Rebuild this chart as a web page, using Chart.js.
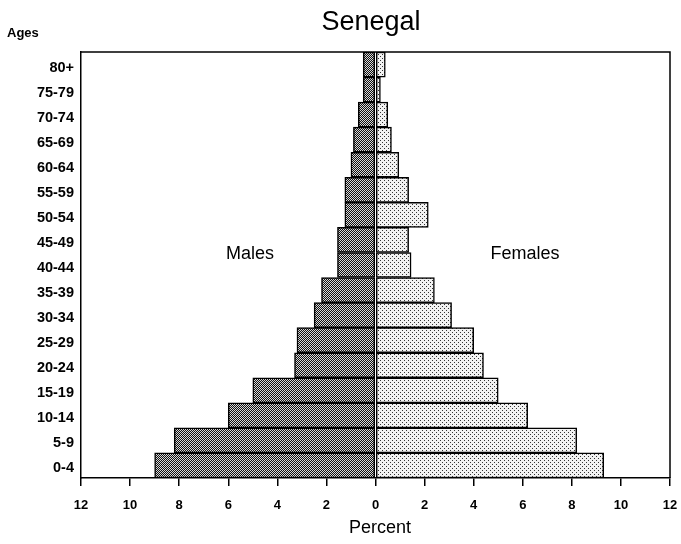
<!DOCTYPE html>
<html>
<head>
<meta charset="utf-8">
<script src="https://cdn.jsdelivr.net/npm/chart.js@4/dist/chart.umd.min.js"></script>
<style>
  html, body { margin: 0; padding: 0; background: #fff; }
  canvas { display: block; }
</style>
</head>
<body>
<canvas id="c" width="681" height="544"></canvas>
<script>
// ---- data (top row first) ----
const ageGroups = ["80+", "75-79", "70-74", "65-69", "60-64", "55-59", "50-54", "45-49", "40-44",
                   "35-39", "30-34", "25-29", "20-24", "15-19", "10-14", "5-9", "0-4"];
const malesPct   = [0.5, 0.5, 0.7, 0.9, 1.0, 1.25, 1.25, 1.55, 1.55, 2.2, 2.5, 3.2, 3.3, 5.0, 6.0, 8.2, 9.0];
const femalesPct = [0.4, 0.2, 0.5, 0.65, 0.95, 1.35, 2.15, 1.35, 1.45, 2.4, 3.1, 4.0, 4.4, 5.0, 6.2, 8.2, 9.3];
const xTickValues = [-12, -10, -8, -6, -4, -2, 0, 2, 4, 6, 8, 10, 12];
const titleText = "Senegal";
const yAxisLabel = "Ages";
const xAxisLabel = "Percent";
const maleLabel = "Males";
const femaleLabel = "Females";

function makePattern(bg, fg, dots, size) {
  const c = document.createElement('canvas');
  c.width = size; c.height = size;
  const g = c.getContext('2d');
  g.fillStyle = bg; g.fillRect(0, 0, size, size);
  g.fillStyle = fg;
  dots.forEach(d => g.fillRect(d[0], d[1], 1, 1));
  return g.createPattern(c, 'repeat');
}
const ctx = document.getElementById('c').getContext('2d');
const malePattern = makePattern('#111111', '#d8d8d8', [[0,0],[1,1]], 2);
const femalePattern = makePattern('#f2f2f2', '#333333', [[0,0],[2,2]], 4);

const textPlugin = {
  id: 'texts',
  afterDraw(chart) {
    const c = chart.ctx, a = chart.chartArea;
    c.save();
    c.strokeStyle = '#000'; c.lineWidth = 1.5;
    c.beginPath();
    c.moveTo(a.left, a.top); c.lineTo(a.right, a.top); c.lineTo(a.right, a.bottom);
    c.stroke();
    c.fillStyle = '#000';
    c.textAlign = 'center'; c.textBaseline = 'alphabetic';
    c.font = '27px "Liberation Sans", Arial, sans-serif';
    c.fillText(titleText, 371, 30);
    c.font = '18px "Liberation Sans", Arial, sans-serif';
    c.fillText(maleLabel, 250, 259);
    c.fillText(femaleLabel, 525, 259);
    c.fillText(xAxisLabel, 380, 533);
    c.textAlign = 'left';
    c.font = 'bold 13px "Liberation Sans", Arial, sans-serif';
    c.fillText(yAxisLabel, 7, 37);
    c.restore();
  }
};

new Chart(ctx, {
  type: 'bar',
  data: {
    labels: ageGroups,
    datasets: [
      { label: maleLabel, data: malesPct.map(v => -v), backgroundColor: malePattern,
        borderColor: '#000', borderWidth: 1.5, borderSkipped: false,
        barPercentage: 1, categoryPercentage: 1 },
      { label: femaleLabel, data: femalesPct, backgroundColor: femalePattern,
        borderColor: '#000', borderWidth: 1.5, borderSkipped: false,
        barPercentage: 1, categoryPercentage: 1 }
    ]
  },
  options: {
    indexAxis: 'y',
    responsive: false,
    animation: false,
    layout: { padding: { top: 52, left: 0, right: 11, bottom: 0 } },
    plugins: { legend: { display: false }, tooltip: { enabled: false }, title: { display: false } },
    scales: {
      x: {
        stacked: true, min: -12, max: 12,
        afterFit(s) { s.height = 66; s.paddingLeft = 0; s.paddingRight = 0; },
        afterBuildTicks(s) { s.ticks = xTickValues.map(v => ({ value: v })); },
        grid: { display: true, drawOnChartArea: false, drawTicks: true, tickLength: 8, color: '#000', lineWidth: 1.5 },
        border: { display: true, color: '#000', width: 1.5 },
        ticks: { color: '#000', padding: 12, maxRotation: 0, autoSkip: false,
                 font: { family: '"Liberation Sans", Arial, sans-serif', size: 13, weight: 'bold' },
                 callback: v => String(Math.abs(v)) }
      },
      y: {
        stacked: true,
        afterFit(s) { s.width = 81; s.paddingTop = 0; s.paddingBottom = 0; },
        grid: { display: false, drawTicks: false },
        border: { display: true, color: '#000', width: 1.5 },
        ticks: { color: '#000', padding: 7, autoSkip: false, labelOffset: 3,
                 font: { family: '"Liberation Sans", Arial, sans-serif', size: 14.5, weight: 'bold' } }
      }
    }
  },
  plugins: [textPlugin]
});
</script>
</body>
</html>
